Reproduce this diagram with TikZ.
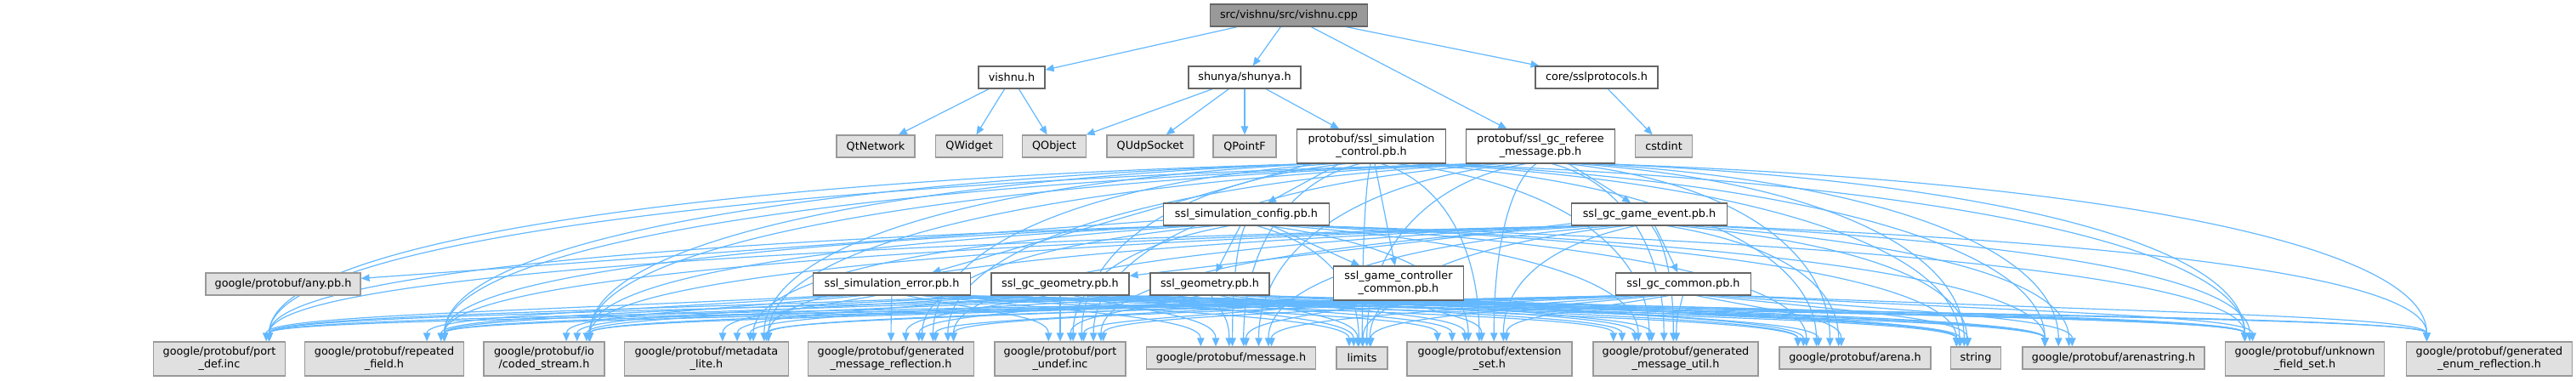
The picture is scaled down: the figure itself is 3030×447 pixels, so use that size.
\documentclass[tikz,border=0pt]{standalone}
\usepackage{fontspec}
\setmainfont{DejaVu Sans}
\usetikzlibrary{arrows.meta,calc}
\pgfdeclarelayer{bg}
\pgfsetlayers{bg,main}
\definecolor{edgec}{HTML}{63B8FF}
\definecolor{extfill}{HTML}{E0E0E0}
\definecolor{extdraw}{HTML}{999999}
\definecolor{nodedraw}{HTML}{666666}
\definecolor{rootfill}{HTML}{999999}
\tikzset{
  base/.style={font=\fontsize{6.4}{7.6}\selectfont, align=center, inner sep=1pt, line width=0.6pt, minimum height=13pt},
  loc/.style={base, draw=nodedraw, fill=white},
  ext/.style={base, draw=extdraw, fill=extfill},
  root/.style={base, draw=nodedraw, fill=rootfill},
  two/.style={minimum height=20pt},
  edge/.style={draw=edgec, line width=0.6pt, -{Triangle[length=5pt,width=4.2pt]}},
}
\newcommand{\pbedge}[2]{%
  \draw[edge] let \p1=(#1.south), \p2=(#2.north), \p3=(#2.north east), \p4=(#1.south east),
    \n1={max(-1,min(1,(\x1-\x2)/420))},
    \p5=({\x2+\n1*0.75*(\x3-\x2)},\y2),
    \p6=({\x1-\n1*0.8*(\x4-\x1)},\y1) in
    (\p6) .. controls ({\x6+0.6*(\x5-\x6)},{\y6-10pt}) and (\x5,{\y5+0.55*(\y6-\y5)}) .. (\p5);}
\begin{document}
\begin{tikzpicture}[x=0.5pt,y=-0.5pt]
\useasboundingbox (0,0) rectangle (3030,447);
% top part
\node[root, minimum width=92.5pt] (root) at (1516,18) {src/vishnu/src/vishnu.cpp};
\node[loc, minimum width=39pt] (vishnuh) at (1190,91) {vishnu.h};
\node[loc, minimum width=66pt] (shunya) at (1464,91) {shunya/shunya.h};
\node[loc, minimum width=72pt] (sslp) at (1878,91) {core/sslprotocols.h};
\node[ext, minimum width=46pt] (qtnet) at (1030,172) {QtNetwork};
\node[ext, minimum width=39.5pt] (qwid) at (1140,172) {QWidget};
\node[ext, minimum width=37.5pt] (qobj) at (1240,172) {QObject};
\node[ext, minimum width=51pt] (qudp) at (1353,172) {QUdpSocket};
\node[ext, minimum width=37pt] (qpt) at (1464,172) {QPointF};
\node[loc, two, minimum width=87.5pt] (simctrl) at (1613,172) {protobuf/ssl\_simulation\\\_control.pb.h};
\node[loc, two, minimum width=87.5pt] (referee) at (1812,172) {protobuf/ssl\_gc\_referee\\\_message.pb.h};
\node[ext, minimum width=33.5pt] (cstdint) at (1957,172) {cstdint};
\node[loc, minimum width=97.5pt] (simcfg) at (1466,252) {ssl\_simulation\_config.pb.h};
\node[loc, minimum width=91.5pt] (gamev) at (1940,252) {ssl\_gc\_game\_event.pb.h};
\node[loc, minimum width=92.5pt] (simerr) at (1049,334) {ssl\_simulation\_error.pb.h};
\node[loc, minimum width=81pt] (gcgeom) at (1247,334) {ssl\_gc\_geometry.pb.h};
\node[loc, minimum width=70pt] (geom) at (1423,334) {ssl\_geometry.pb.h};
\node[loc, two, minimum width=76.5pt] (gcctl) at (1645,333) {ssl\_game\_controller\\\_common.pb.h};
\node[loc, minimum width=79.5pt] (gccommon) at (1980,334) {ssl\_gc\_common.pb.h};
\node[ext, minimum width=91pt] (any) at (333,334) {google/protobuf/any.pb.h};
% bottom row
\node[ext, two, minimum width=77.5pt] (portdef) at (258,422) {google/protobuf/port\\\_def.inc};
\node[ext, two, minimum width=93.5pt] (repf) at (452,422) {google/protobuf/repeated\\\_field.h};
\node[ext, two, minimum width=71pt] (coded) at (640,422) {google/protobuf/io\\/coded\_stream.h};
\node[ext, two, minimum width=96.5pt] (meta) at (831,422) {google/protobuf/metadata\\\_lite.h};
\node[ext, two, minimum width=97.5pt] (gmr) at (1048,422) {google/protobuf/generated\\\_message\_reflection.h};
\node[ext, two, minimum width=77pt] (undef) at (1247,422) {google/protobuf/port\\\_undef.inc};
\node[ext, minimum width=99.5pt] (msg) at (1448,421) {google/protobuf/message.h};
\node[ext, minimum width=30pt] (limits) at (1602,421) {limits};
\node[ext, two, minimum width=97pt] (extset) at (1752,422) {google/protobuf/extension\\\_set.h};
\node[ext, two, minimum width=97pt] (gmu) at (1971,422) {google/protobuf/generated\\\_message\_util.h};
\node[ext, minimum width=89pt] (arena) at (2182,421) {google/protobuf/arena.h};
\node[ext, minimum width=29.5pt] (string) at (2324,421) {string};
\node[ext, minimum width=107pt] (astr) at (2486,421) {google/protobuf/arenastring.h};
\node[ext, two, minimum width=93.5pt] (ufs) at (2711,422) {google/protobuf/unknown\\\_field\_set.h};
\node[ext, two, minimum width=97.5pt] (enumr) at (2928,422) {google/protobuf/generated\\\_enum\_reflection.h};
\begin{pgfonlayer}{bg}
\foreach \s in {simctrl,referee,simcfg,gamev,simerr,gcgeom,geom,gcctl,gccommon}{
  \foreach \t in {portdef,repf,coded,meta,gmr,undef,msg,limits,extset,gmu,arena,string,astr,ufs}{
    \pbedge{\s}{\t}
  }
}
\foreach \s in {referee,gamev,gccommon,gcctl,simerr}{\pbedge{\s}{enumr}}
\draw[edge] (root) -- (vishnuh);
\draw[edge] (root) -- (shunya);
\draw[edge] (root) -- (referee);
\draw[edge] (root) -- (sslp);
\draw[edge] (vishnuh) -- (qtnet);
\draw[edge] (vishnuh) -- (qwid);
\draw[edge] (vishnuh) -- (qobj);
\draw[edge] (shunya) -- (qobj);
\draw[edge] (shunya) -- (qudp);
\draw[edge] (shunya) -- (qpt);
\draw[edge] (shunya) -- (simctrl);
\draw[edge] (sslp) -- (cstdint);
\draw[edge] (simctrl) -- (simcfg);
\draw[edge] (simctrl) -- (simerr);
\draw[edge] (simctrl) -- (gcctl);
\draw[edge] (simcfg) -- (geom);
\draw[edge] (simcfg) -- (gcctl);
\draw[edge] (simcfg) -- (any);
\draw[edge] (referee) -- (gamev);
\draw[edge] (gamev) -- (gccommon);
\draw[edge] (gamev) -- (gcgeom);
\end{pgfonlayer}
\end{tikzpicture}
\end{document}
